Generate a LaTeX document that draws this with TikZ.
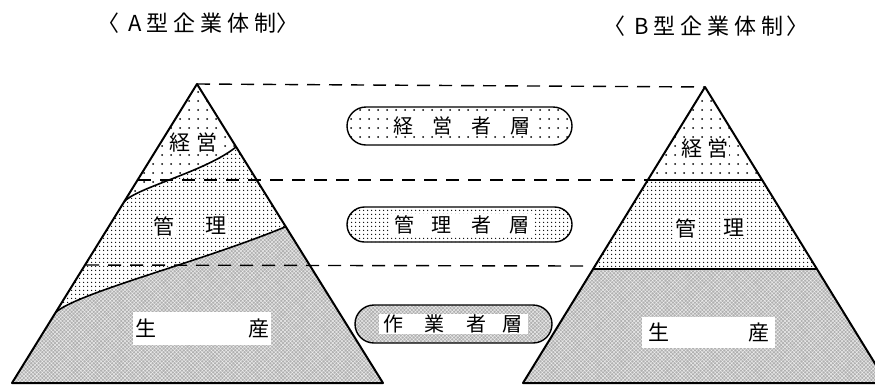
\documentclass[tikz,border=0pt]{standalone}
\usepackage{fontspec}
\newfontfamily\jp{Noto Sans CJK JP}
\usetikzlibrary{patterns.meta,shapes.misc}
\tikzset{
  sparse/.style={preaction={fill=white},pattern={Dots[distance=9pt,radius=1pt]},pattern color=black},
  dense/.style={preaction={fill=white},pattern={Dots[distance=4pt,radius=0.85pt]},pattern color=black},
  prod/.style={preaction={fill=gray!62},pattern={Hatch[angle=45,distance=2.6pt,line width=0.45pt]},pattern color=gray!15},
  edge/.style={line width=2pt,line join=round},
  bound/.style={line width=1.6pt},
  dline/.style={line width=1.4pt,dash pattern=on 13pt off 9pt},
  lbl/.style={font=\jp\fontsize{21}{21}\selectfont,inner sep=1pt,fill=white},
  plbl/.style={font=\jp\fontsize{20}{20}\selectfont,inner xsep=5pt,inner ysep=1pt,fill=white},
  pill/.style={rounded rectangle,draw,line width=1.4pt,inner sep=0pt},
  ttl/.style={font=\jp\fontsize{22}{22}\selectfont,inner sep=0pt},
}
\begin{document}
\begin{tikzpicture}[x=1pt,y=-1pt]
\useasboundingbox (0,0) rectangle (875,389);
\clip (0,0) rectangle (875,389);
% titles
\node[ttl] (tA) at (198,23) {〈\hspace{9pt}A\hspace{5pt}型\hspace{5pt}企\hspace{5pt}業\hspace{5pt}体\hspace{5pt}制〉};
\node[ttl] (tB) at (706,26) {〈\hspace{9pt}B\hspace{5pt}型\hspace{5pt}企\hspace{5pt}業\hspace{5pt}体\hspace{5pt}制\hspace{3pt}〉};
% left pyramid
\coordinate (A) at (197,84);
\coordinate (BL) at (12,383);
\coordinate (BR) at (383,383);
\coordinate (L1) at (124,202);
\coordinate (R1) at (236,147);
\coordinate (L2) at (56,312);
\coordinate (R2) at (285,227);
\fill[sparse] (A) -- (R1) .. controls (205,172) and (135,188) .. (L1) -- cycle;
\fill[dense] (L1) .. controls (135,188) and (205,172) .. (R1) -- (R2) .. controls (200,262) and (80,292) .. (L2) -- cycle;
\fill[prod] (L2) .. controls (80,292) and (200,262) .. (R2) -- (BR) -- (BL) -- cycle;
\draw[bound] (L1) .. controls (135,188) and (205,172) .. (R1);
\draw[bound] (L2) .. controls (80,292) and (200,262) .. (R2);
\draw[edge] (A) -- (BR) -- (BL) -- cycle;
% right pyramid
\coordinate (RA) at (705,87);
\coordinate (RBL) at (523,383);
\coordinate (RBR) at (887,383);
\coordinate (RL1) at (647.8,180);
\coordinate (RR1) at (762.2,180);
\coordinate (RL2) at (593.1,269);
\coordinate (RR2) at (816.9,269);
\fill[sparse] (RA) -- (RR1) -- (RL1) -- cycle;
\fill[dense] (RL1) -- (RR1) -- (RR2) -- (RL2) -- cycle;
\fill[prod] (RL2) -- (RR2) -- (RBR) -- (RBL) -- cycle;
\draw[bound] (RL1) -- (RR1);
\draw[bound] (RL2) -- (RR2);
\draw[edge] (RA) -- (RBR) -- (RBL) -- cycle;
% dashed guide lines
\coordinate (D1) at (138,180);
\coordinate (D2) at (86,265);
\coordinate (D2e) at (583,266);
\draw[dline] (A) -- (RA);
\draw[dline] (D1) -- (RL1);
\draw[dline] (D2) -- (D2e);
% middle pills
\node[pill,sparse,minimum width=225pt,minimum height=38pt] (p1) at (459.5,126) {};
\node[plbl] (p1t) at (461.5,126) {経\hspace{19pt}営\hspace{19pt}者\hspace{19pt}層};
\node[pill,dense,minimum width=225pt,minimum height=35pt] (p2) at (459.5,224.5) {};
\node[plbl] (p2t) at (461.5,224.5) {管\hspace{17pt}理\hspace{20pt}者\hspace{18pt}層};
\node[pill,prod,minimum width=197pt,minimum height=38pt] (p3) at (453.5,324) {};
\node[plbl] (p3t) at (453,324) {作\hspace{21pt}業\hspace{22pt}者\hspace{16pt}層};
% left labels
\node[lbl] (lk1) at (180,143) {経};
\node[lbl] (lk2) at (207,143) {営};
\node[lbl] (lm1) at (164,226) {管};
\node[lbl] (lm2) at (216,226) {理};
\node[lbl,inner xsep=2pt,minimum height=33pt] (ls) at (202,328.5) {\makebox[134pt]{生\hfill 産}};
% right labels
\node[lbl] (rk1) at (692,149) {経};
\node[lbl] (rk2) at (717.5,149) {営};
\node[lbl] (rm1) at (685.5,228) {管};
\node[lbl] (rm2) at (733.5,228) {理};
\node[lbl,inner xsep=6pt,minimum height=31pt] (rs) at (708.5,332.5) {\makebox[121pt]{生\hfill 産}};
\end{tikzpicture}
\end{document}
